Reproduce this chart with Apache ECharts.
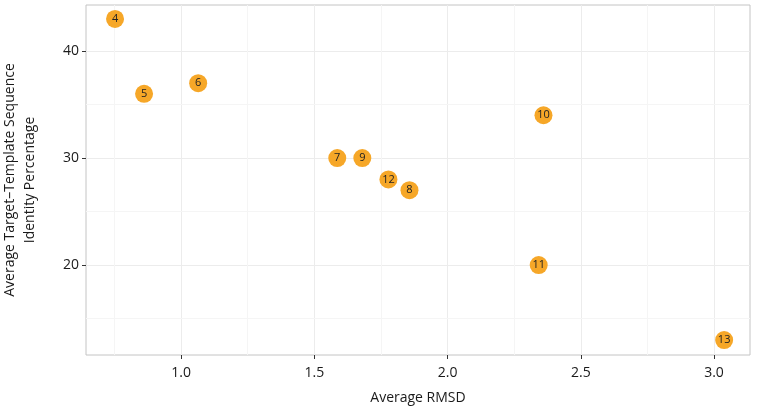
<!DOCTYPE html>
<html><head><meta charset="utf-8">
<script src="https://cdn.jsdelivr.net/npm/echarts@6/dist/echarts.min.js"></script>
<style>html,body{margin:0;padding:0;background:#fff}#c{width:760px;height:409px}</style>
</head><body><div id="c"></div>
<script>
const labels = ['4','5','6','7','9','12','8','10','11','13'];
const rmsd = [0.752, 0.861, 1.064, 1.586, 1.68, 1.778, 1.857, 2.36, 2.342, 3.038];
const identity = [43, 36, 37, 30, 30, 28, 27, 34, 20, 13];
const xTicks = [1.0, 1.5, 2.0, 2.5, 3.0];
const yTicks = [20, 30, 40];
const xMinor = [0.75, 1.25, 1.75, 2.25, 2.75];
const yMinor = [15, 25, 35];

const chart = echarts.init(document.getElementById('c'));
const font = 'Open Sans';
const data = rmsd.map((x, i) => [x, identity[i], labels[i]]);
const minorLines = xMinor.map(v => ({xAxis: v})).concat(yMinor.map(v => ({yAxis: v})));
chart.setOption({
  animation: false,
  grid: {left: 86, right: 10, top: 5, bottom: 54, show: true, borderColor: '#c4c4c4', borderWidth: 1, outerBoundsMode: 'none', containLabel: false},
  xAxis: {
    type: 'value', min: 0.643, max: 3.135,
    name: 'Average RMSD', nameLocation: 'middle', nameGap: 36, nameMoveOverlap: false,
    nameTextStyle: {fontFamily: font, fontSize: 14, color: '#1a1a1a'},
    axisLine: {show: false},
    axisTick: {show: true, length: 4, lineStyle: {color: '#333'}, customValues: xTicks},
    axisLabel: {fontFamily: font, fontSize: 14, color: '#1a1a1a', margin: 11, customValues: xTicks, formatter: v => v.toFixed(1)},
    splitLine: {show: true, lineStyle: {color: '#ececec'}}
  },
  yAxis: {
    type: 'value', min: 11.6, max: 44.3,
    name: 'Average Target\u2013Template Sequence\nIdentity Percentage', nameLocation: 'middle', nameGap: 46, nameMoveOverlap: false,
    nameTextStyle: {fontFamily: font, fontSize: 14, color: '#1a1a1a', lineHeight: 20},
    axisLine: {show: false},
    axisTick: {show: true, length: 4, lineStyle: {color: '#333'}, customValues: yTicks},
    axisLabel: {fontFamily: font, fontSize: 14, color: '#1a1a1a', margin: 7, customValues: yTicks},
    splitLine: {show: true, lineStyle: {color: '#ececec'}}
  },
  series: [{
    type: 'scatter', data: data, symbolSize: 18,
    itemStyle: {color: '#f6a728', opacity: 1},
    label: {show: true, position: 'inside', align: 'center', verticalAlign: 'middle', formatter: p => p.data[2], fontFamily: font, fontSize: 11, color: '#222'},
    markLine: {silent: true, symbol: 'none', label: {show: false}, lineStyle: {color: '#f5f5f5', type: 'solid', width: 1}, data: minorLines, z: 0},
    z: 5
  }]
});
</script></body></html>
